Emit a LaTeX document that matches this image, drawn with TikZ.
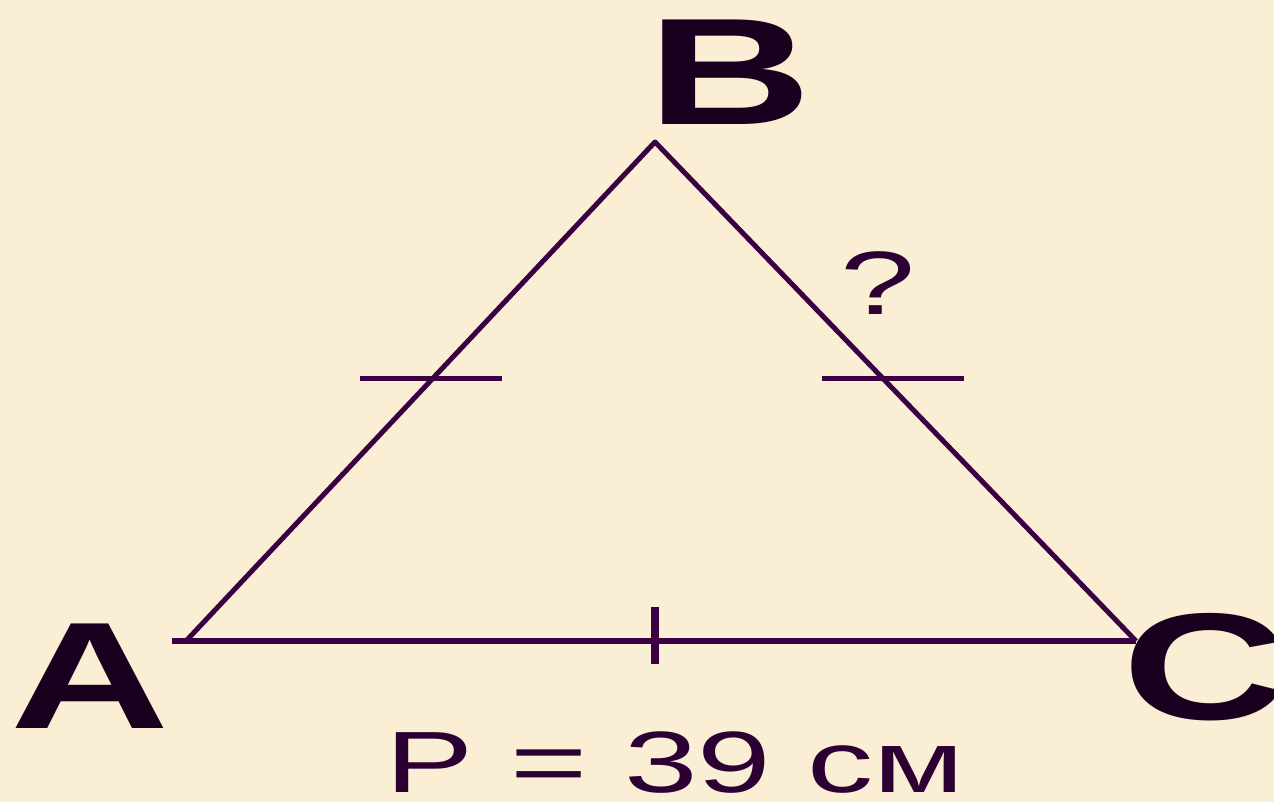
\documentclass[tikz,border=0pt]{standalone}
\usepackage{fontspec}
\setmainfont{Liberation Sans}
\usepackage{graphicx}
\usetikzlibrary{calc}
\definecolor{bg}{RGB}{250,238,212}
\definecolor{lin}{RGB}{58,0,66}
\definecolor{ink}{RGB}{24,0,30}
\definecolor{txt}{RGB}{45,0,52}
\begin{document}
\begin{tikzpicture}[x=1pt,y=-1pt,
  side/.style={draw=lin,line width=5pt,line join=round},
  baseline/.style={draw=lin,line width=6pt},
  tickmark/.style={draw=lin,line width=5pt},
  midtick/.style={draw=lin,line width=8pt},
  vlabel/.style={inner sep=0pt,text=ink,font=\bfseries\fontsize{152}{152}\selectfont},
  qlabel/.style={inner sep=0pt,text=txt,font=\fontsize{90}{90}\selectfont},
  plabel/.style={inner sep=0pt,text=txt,font=\fontsize{87}{87}\selectfont}]
\fill[bg] (0,0) rectangle (1274,802);
\useasboundingbox (0,0) rectangle (1274,802);
% vertices
\coordinate (A) at (186,641);
\coordinate (B) at (655,142);
\coordinate (C) at (1136,641);
\coordinate (A0) at (172,641);
% sides
\draw[side] (A) -- (B) -- (C);
\draw[baseline] (A0) -- (C);
% tick marks
\coordinate (mAB) at (431,378);
\coordinate (mBC) at (893,378);
\coordinate (mAC) at (655,636);
\draw[tickmark] ([xshift=-71pt]mAB) -- ([xshift=71pt]mAB);
\draw[tickmark] ([xshift=-71pt]mBC) -- ([xshift=71pt]mBC);
\draw[midtick] ([yshift=29pt]mAC) -- ([yshift=-28pt]mAC);
% labels
\node[vlabel,anchor=base] (la) at (90,728) {\scalebox{1.45}[1]{A}};
\node[vlabel,anchor=base] (lb) at (730,125) {\scalebox{1.5}[1]{B}};
\node[vlabel,anchor=base west] (lc) at (1122,719) {\scalebox{1.5}[1]{C}};
\node[qlabel,anchor=base west] (q) at (840,315) {\scalebox{1.5}[1]{?}};
\node[plabel,anchor=base west] (p) at (385,792) {\scalebox{1.52}[1]{P = 39 см}};
\end{tikzpicture}
\end{document}
